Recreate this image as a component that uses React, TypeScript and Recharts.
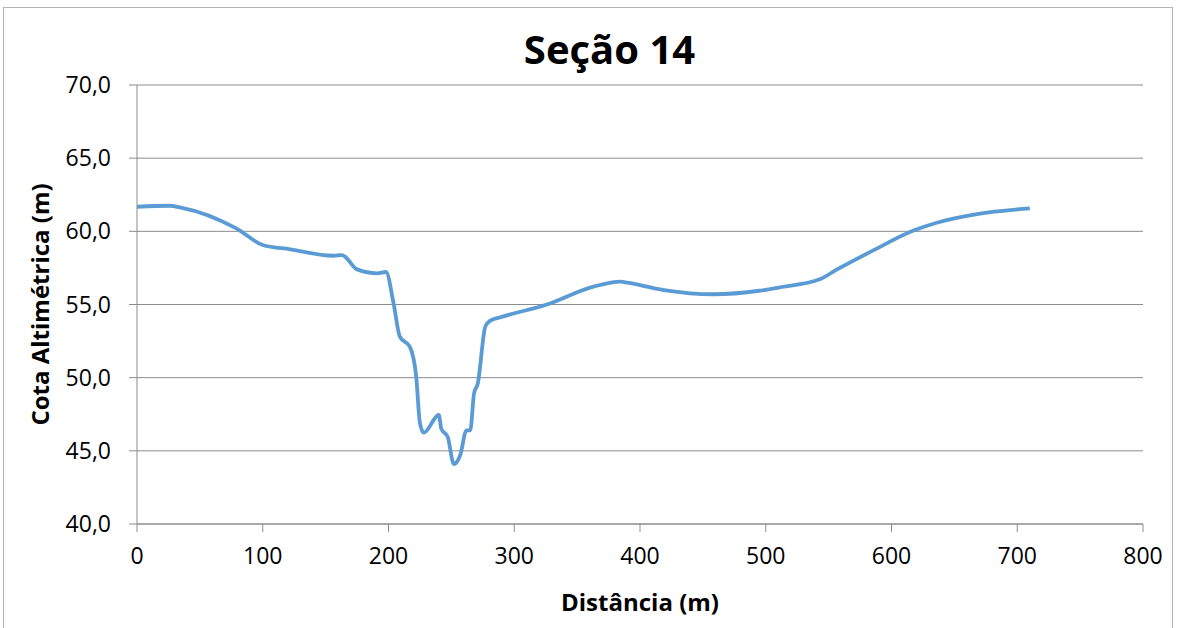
import React from 'react';
import { LineChart, Line, XAxis, YAxis, CartesianGrid, Label } from 'recharts';

const distances = [0, 26, 34, 79, 100, 122, 156, 163, 175, 191, 198, 204, 209, 217, 222, 225, 228, 240, 242, 247, 252, 257, 262, 265, 268, 271, 277, 281, 289, 326, 363, 385, 390, 419, 458, 495, 511, 543, 556, 586, 617, 636, 668, 710];
const elevations = [61.68, 61.75, 61.64, 60.2, 59.07, 58.77, 58.33, 58.38, 57.4, 57.13, 57.22, 55.1, 52.8, 52.1, 50.1, 46.9, 46.24, 47.45, 46.5, 45.97, 44.1, 44.7, 46.4, 46.4, 48.9, 49.6, 53.5, 53.9, 54.13, 55.0, 56.22, 56.56, 56.49, 55.99, 55.7, 55.94, 56.17, 56.72, 57.36, 58.72, 60.04, 60.59, 61.18, 61.57];
const xTicks = [0, 100, 200, 300, 400, 500, 600, 700, 800];
const yTicks = [40, 45, 50, 55, 60, 65, 70];

const title = 'Seção 14';
const xTitle = 'Distância (m)';
const yTitle = 'Cota Altimétrica (m)';

const data = distances.map((d, i) => ({ d, z: elevations[i] }));

const FONT = '"Open Sans", "Noto Sans", sans-serif';
const GRAY = '#8c8c8c';

export default function App() {
  return (
    <div style={{ position: 'absolute', left: 0, top: 0, width: 1177, height: 628, background: '#fff', overflow: 'hidden', fontFamily: FONT }}>
      <div style={{ position: 'absolute', left: 3, top: 7, width: 1168, height: 700, border: '1px solid #b4b4b4' }} />
      <div style={{ position: 'absolute', left: 0, width: 1219, top: 23, textAlign: 'center', fontWeight: 700, fontSize: 40, lineHeight: '52px', color: '#000' }}>{title}</div>
      <LineChart width={1177} height={628} data={data} margin={{ top: 85, right: 34, bottom: 0, left: 0 }} style={{ position: 'absolute', left: 0, top: 0 }}>
        <CartesianGrid horizontal={true} vertical={false} stroke={GRAY} strokeWidth={1} />
        <XAxis
          dataKey="d"
          type="number"
          domain={[0, 800]}
          ticks={xTicks}
          height={104}
          tickSize={8}
          tickMargin={16}
          stroke={GRAY}
          tick={{ fill: '#000', fontSize: 23, fontFamily: FONT }}
          tickLine={{ stroke: GRAY }}
        >
          <Label value={xTitle} position="center" dy={26} style={{ fontWeight: 700, fontSize: 24, fill: '#000', fontFamily: FONT }} />
        </XAxis>
        <YAxis
          type="number"
          domain={[40, 70]}
          ticks={yTicks}
          width={137}
          tickSize={8}
          tickMargin={18}
          stroke={GRAY}
          tick={{ fill: '#000', fontSize: 23, fontFamily: FONT }}
          tickFormatter={(v: number) => v.toFixed(1).replace('.', ',')}
          tickLine={{ stroke: GRAY }}
        >
          <Label value={yTitle} angle={-90} position="center" dx={-28} style={{ fontWeight: 700, fontSize: 24, fill: '#000', fontFamily: FONT, textAnchor: 'middle' }} />
        </YAxis>
        <Line type="monotone" dataKey="z" stroke="#5B9BD5" strokeWidth={3.8} dot={false} isAnimationActive={false} />
      </LineChart>
    </div>
  );
}
